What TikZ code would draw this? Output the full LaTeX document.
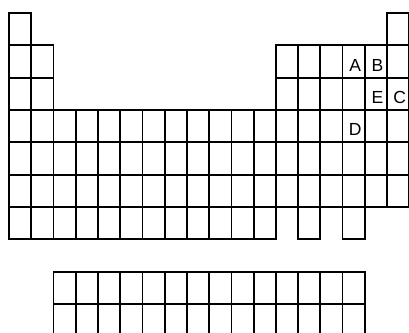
\documentclass[tikz,border=0pt]{standalone}
\usepackage{fontspec}
\setmainfont{Liberation Sans}
\usetikzlibrary{positioning}

\tikzset{
  cell/.style={draw=black,line width=1.8pt},
  elem/.style={font=\fontsize{17.5}{20}\selectfont,inner sep=0pt,xshift=1.5pt,yshift=-3.5pt}
}
% one box of the table, column #1, row #2
\newcommand{\ptcell}[2]{\draw[cell] (#1-1,#2-1) rectangle (#1,#2);}

\begin{document}
\begin{tikzpicture}[x=22.24pt,y=-32.33pt]
  \useasboundingbox (-0.405,-0.402) rectangle (17.986,9.898);

  % main block
  \foreach \c in {1,18} {\ptcell{\c}{1}}
  \foreach \r in {2,3} {
    \foreach \c in {1,2,13,14,15,16,17,18} {\ptcell{\c}{\r}}
  }
  \foreach \r in {4,5,6} {
    \foreach \c in {1,...,18} {\ptcell{\c}{\r}}
  }
  \foreach \c in {1,2,3,4,5,6,7,8,9,10,11,12,14,16} {\ptcell{\c}{7}}

  % separate block
  \foreach \r in {9,10} {
    \foreach \c in {3,...,16} {\ptcell{\c}{\r}}
  }

  % letters
  \node[elem] (lblA) at (15.5,1.5) {A};
  \node[elem] (lblB) at (16.5,1.5) {B};
  \node[elem] (lblE) at (16.5,2.5) {E};
  \node[elem] (lblC) at (17.5,2.5) {C};
  \node[elem] (lblD) at (15.5,3.5) {D};
\end{tikzpicture}
\end{document}
